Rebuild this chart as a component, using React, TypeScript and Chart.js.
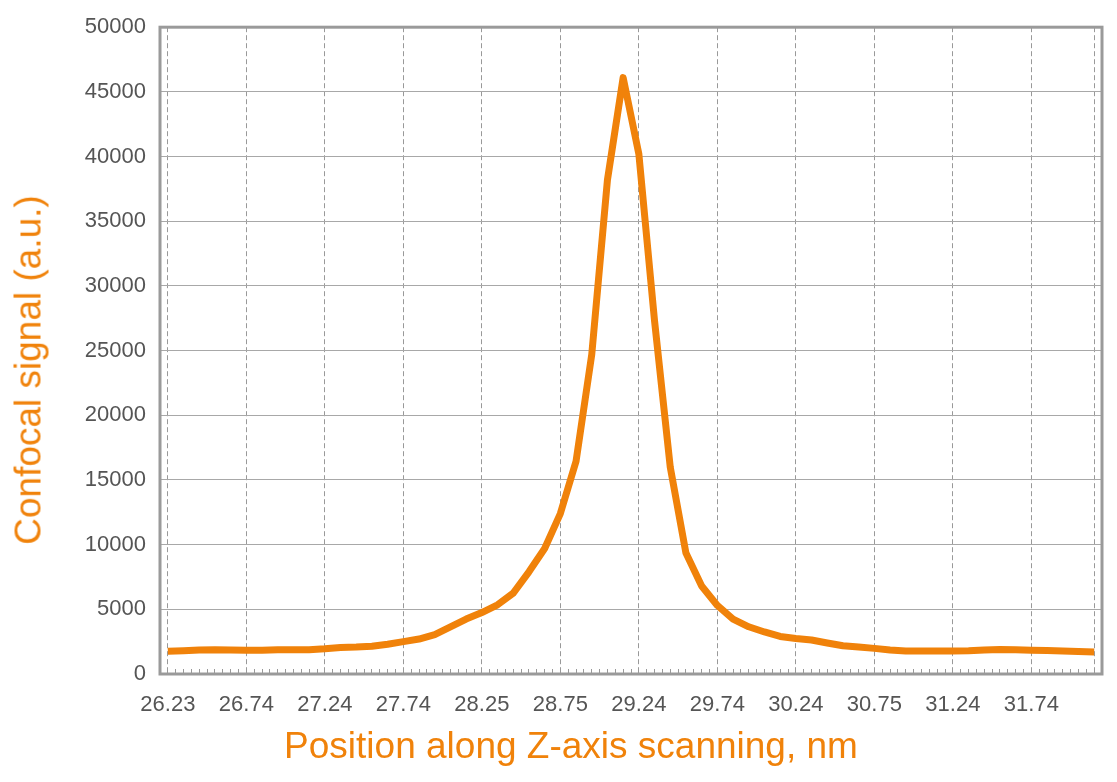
import React, { useEffect, useRef } from "react";
import { Chart, registerables } from "chart.js";

Chart.register(...registerables);

// Tick labels shown every 5 samples (nm)
const xTickLabels = [
  "26.23", "26.74", "27.24", "27.74", "28.25", "28.75",
  "29.24", "29.74", "30.24", "30.75", "31.24", "31.74",
];

// Confocal signal per scan step (a.u.)
const signal = [
  1750, 1800, 1850, 1870, 1860, 1830, 1840, 1870, 1880, 1880,
  1950, 2050, 2080, 2150, 2300, 2500, 2700, 3050, 3650, 4250,
  4750, 5350, 6250, 7900, 9700, 12400, 16450, 24700, 38200, 46100,
  40200, 27300, 16000, 9350, 6800, 5300, 4250, 3650, 3250, 2900,
  2750, 2630, 2400, 2180, 2080, 1980, 1850, 1780, 1770, 1780,
  1780, 1800, 1850, 1900, 1880, 1840, 1820, 1780, 1740, 1700,
];

const yTicks = { min: 0, max: 50000, step: 5000 };
const labelEvery = 5;

const xTitle = "Position along Z-axis scanning, nm";
const yTitle = "Confocal signal (a.u.)";

const ORANGE = "rgb(240,130,10)";
const FRAME = "#9a9a9a";
const FONT = "'Liberation Sans', Arial, sans-serif";

const framePlugin = {
  id: "frame",
  beforeDatasetsDraw(chart: any) {
    const { ctx, chartArea } = chart;
    ctx.save();
    ctx.strokeStyle = FRAME;
    ctx.lineWidth = 3;
    ctx.strokeRect(
      chartArea.left,
      chartArea.top,
      chartArea.right - chartArea.left,
      chartArea.bottom - chartArea.top
    );
    ctx.restore();
  },
};

export default function App() {
  const ref = useRef<HTMLCanvasElement | null>(null);

  useEffect(() => {
    if (!ref.current) return;
    const lastIdx = signal.length - 1;
    const chart = new Chart(ref.current, {
      type: "line",
      data: {
        datasets: [
          {
            data: signal.map((y, i) => ({ x: i, y })),
            borderColor: ORANGE,
            borderWidth: 7,
            pointRadius: 0,
            tension: 0,
            fill: false,
            borderJoinStyle: "round",
            borderCapStyle: "butt",
          },
        ],
      },
      options: {
        responsive: false,
        animation: false,
        layout: { padding: { top: 27, right: 15, left: 0, bottom: 0 } },
        plugins: { legend: { display: false }, tooltip: { enabled: false } },
        scales: {
          x: {
            type: "linear",
            min: -0.5,
            max: lastIdx + 0.5,
            border: { display: false, dash: [5, 3] },
            grid: {
              color: (c: any) => {
                const v = c.tick ? c.tick.value : 0;
                return v >= 0 && (v % labelEvery === 0 || v === lastIdx)
                  ? "#999999"
                  : "rgba(0,0,0,0)";
              },
              tickColor: "#999999",
              tickLength: -5,
              lineWidth: 1,
              drawTicks: true,
            },
            ticks: {
              stepSize: 0.5,
              autoSkip: false,
              maxRotation: 0,
              minRotation: 0,
              padding: 23,
              color: "#555555",
              font: { family: FONT, size: 22 },
              callback: (v: any) => {
                const n = Number(v);
                if (n >= 0 && Number.isInteger(n) && n % labelEvery === 0) {
                  return xTickLabels[n / labelEvery] ?? "";
                }
                return "";
              },
            },
            afterFit: (s: any) => {
              s.height = 108;
              s.paddingLeft = 0;
              s.paddingRight = 0;
            },
          },
          y: {
            min: yTicks.min,
            max: yTicks.max,
            border: { display: false },
            grid: { color: "#a8a8a8", lineWidth: 1, drawTicks: false },
            ticks: {
              stepSize: yTicks.step,
              padding: 14,
              color: "#555555",
              font: { family: FONT, size: 22 },
              callback: (v: any) => String(v),
            },
            afterFit: (s: any) => {
              s.width = 160;
            },
          },
        },
      },
      plugins: [framePlugin],
    });
    return () => chart.destroy();
  }, []);

  return (
    <div
      style={{
        position: "absolute",
        left: 0,
        top: 0,
        width: 1117,
        height: 782,
        background: "#fff",
        overflow: "hidden",
      }}
    >
      <canvas ref={ref} width={1117} height={782} style={{ width: 1117, height: 782 }} />
      <div
        style={{
          position: "absolute",
          left: 571,
          top: 745,
          transform: "translate(-50%, -50%)",
          whiteSpace: "nowrap",
          color: ORANGE,
          fontFamily: FONT,
          fontSize: 37,
          lineHeight: 1,
        }}
      >
        {xTitle}
      </div>
      <div
        style={{
          position: "absolute",
          left: 28,
          top: 370,
          transform: "translate(-50%, -50%) rotate(-90deg)",
          whiteSpace: "nowrap",
          color: ORANGE,
          fontFamily: FONT,
          fontSize: 37,
          lineHeight: 1,
        }}
      >
        {yTitle}
      </div>
    </div>
  );
}
